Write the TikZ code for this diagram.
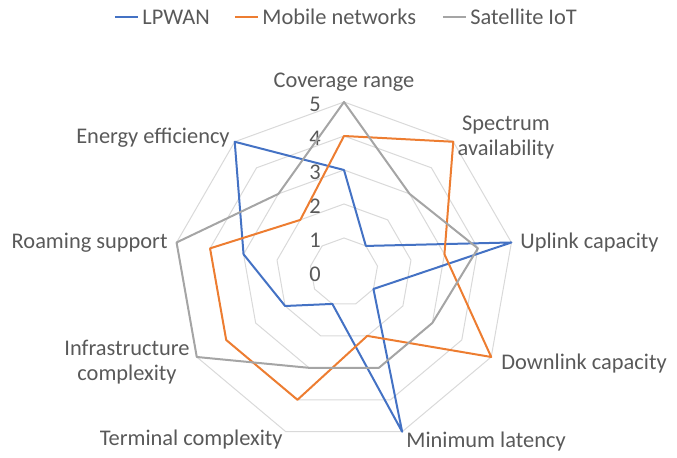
\documentclass[tikz,border=0pt]{standalone}
\usepackage{fontspec}
\setmainfont{Carlito}
\usetikzlibrary{positioning}
\definecolor{lpwan}{HTML}{4472C4}
\definecolor{mobile}{HTML}{ED7D31}
\definecolor{satiot}{HTML}{A5A5A5}
\definecolor{gridgray}{HTML}{D9D9D9}
\definecolor{txtgray}{HTML}{595959}

\begin{document}
\begin{tikzpicture}[x=0.5pt, y=0.5pt,
    every node/.style={text=txtgray, inner sep=0pt, font=\fontsize{11.2}{12.5}\selectfont},
    gridline/.style={draw=gridgray, line width=0.5pt},
    series/.style={line width=1pt, line join=round}]
    \useasboundingbox (-344, -186) rectangle (333, 272);

    % rings
    \foreach \r in {1,...,5}{
        \draw[gridline] (90:{34*\r})
        \foreach \k in {1,...,8}{ -- ({90-40*\k}:{34*\r}) } -- cycle;
    }
    \foreach \v in {0,...,5}
        \node(tick\v) at (-29, {34*\v-2}) {\v};

    % data points
    \foreach \name/\vals in {lp/{3,1,5,1,5,1,2,3,5},
                             mob/{4,5,3,5,2,4,4,4,2},
                             sat/{5,3,4,3,3,3,5,5,3}}{
        \foreach \v [count=\k from 0] in \vals
            \coordinate(\name\k) at ({90-40*\k}:{34*\v});
    }
    \draw[series, lpwan] (lp0) \foreach \k in {1,...,8}{ -- (lp\k) } -- cycle;
    \draw[series, mobile] (mob0) \foreach \k in {1,...,8}{ -- (mob\k) } -- cycle;
    \draw[series, satiot] (sat0) \foreach \k in {1,...,8}{ -- (sat\k) } -- cycle;

    % axis labels
    \node(cov) at (0, 190) {Coverage range};
    \node[align=center](spec) at (162, 134) {Spectrum\\availability};
    \node[anchor=west](upl) at (176, 29) {Uplink capacity};
    \node[anchor=west](dnl) at (157, -92) {Downlink capacity};
    \node[anchor=west](lat) at (62, -170) {Minimum latency};
    \node[anchor=east](term) at (-61, -168) {Terminal complexity};
    \node[align=center](infra) at (-217, -90) {Infrastructure\\complexity};
    \node[anchor=east](roam) at (-176, 29) {Roaming support};
    \node[anchor=east](energy) at (-114, 134) {Energy efficiency};

    % legend
    \coordinate(lg1) at (-229, 255);
    \draw[series, lpwan] (lg1) -- ++(23, 0) coordinate(lg1e);
    \node[right=2pt of lg1e](lgt1) {LPWAN};
    \coordinate(lg2) at (-109, 255);
    \draw[series, mobile] (lg2) -- ++(23, 0) coordinate(lg2e);
    \node[right=2pt of lg2e](lgt2) {Mobile networks};
    \coordinate(lg3) at (99, 255);
    \draw[series, satiot] (lg3) -- ++(23, 0) coordinate(lg3e);
    \node[right=2pt of lg3e](lgt3) {Satellite IoT};
\end{tikzpicture}
\end{document}
